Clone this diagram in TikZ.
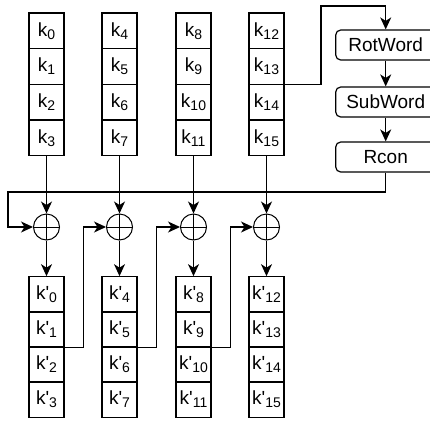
\documentclass[tikz,border=0pt]{standalone}
\usepackage{fontspec}
\newfontfamily\dio{Liberation Sans}
\usetikzlibrary{arrows.meta}

% key words with lowered indices
\newcommand{\ksub}[1]{k\raisebox{-3pt}{\fontsize{14}{14}\selectfont #1}}
\newcommand{\kpsub}[1]{k'\raisebox{-3pt}{\fontsize{14}{14}\selectfont #1}}

\begin{document}
\begin{tikzpicture}[x=1pt, y=-1pt, line width=1.2pt,
    >={Stealth[length=12pt, width=11pt, inset=3.5pt]},
    cell/.style={draw, rectangle, minimum width=35pt, minimum height=35.5pt,
                 inner sep=0pt, font=\dio\fontsize{19}{22}\selectfont},
    stepbox/.style={draw, rectangle, rounded corners=5pt, minimum width=100pt,
                    minimum height=30pt, inner sep=0pt,
                    font=\dio\fontsize{19}{22}\selectfont},
    xorc/.style={draw, circle, minimum size=26pt, inner sep=0pt, line width=1pt,
                 path picture={\draw[line width=1pt]
                   (path picture bounding box.north) -- (path picture bounding box.south)
                   (path picture bounding box.west) -- (path picture bounding box.east);}}]

    \useasboundingbox (0,0) rectangle (430,421);

    % round key words
    \foreach \c/\x in {0/46.5, 1/119.5, 2/193.5, 3/266.5} {
        \foreach \r in {0,...,3} {
            \pgfmathtruncatemacro\i{4*\c+\r}
            \node[cell] (k\i) at (\x, 30.8+35.7*\r) {\ksub{\i}};
            \node[cell] (kp\i) at (\x, 294.5+35*\r) {\kpsub{\i}};
        }
        \node[xorc] (x\c) at (\x, 227) {};
    }

    % g function
    \node[stepbox] (rot)  at (385.7, 45)  {RotWord};
    \node[stepbox] (sub)  at (385.7, 102) {SubWord};
    \node[stepbox] (rcon) at (385.7, 157) {Rcon};

    \coordinate (top) at (321, 6);
    \coordinate (back) at (8, 192);

    \draw[->] (k13.south east) -| (top) -| (rot.north);
    \draw[->] (rot) -- (sub);
    \draw[->] (sub) -- (rcon);
    \draw[->] (rcon.south) |- (back) |- (x0.west);

    % xor chain
    \foreach \c/\a/\b in {0/3/0, 1/7/4, 2/11/8, 3/15/12} {
        \draw[->] (k\a.south) -- (x\c.north);
        \draw[->] (x\c.south) -- (kp\b.north);
    }
    \foreach \a/\c in {1/1, 5/2, 9/3}
        \draw[->] (kp\a.south east) -- ++(18.5,0) |- (x\c.west);

\end{tikzpicture}
\end{document}
